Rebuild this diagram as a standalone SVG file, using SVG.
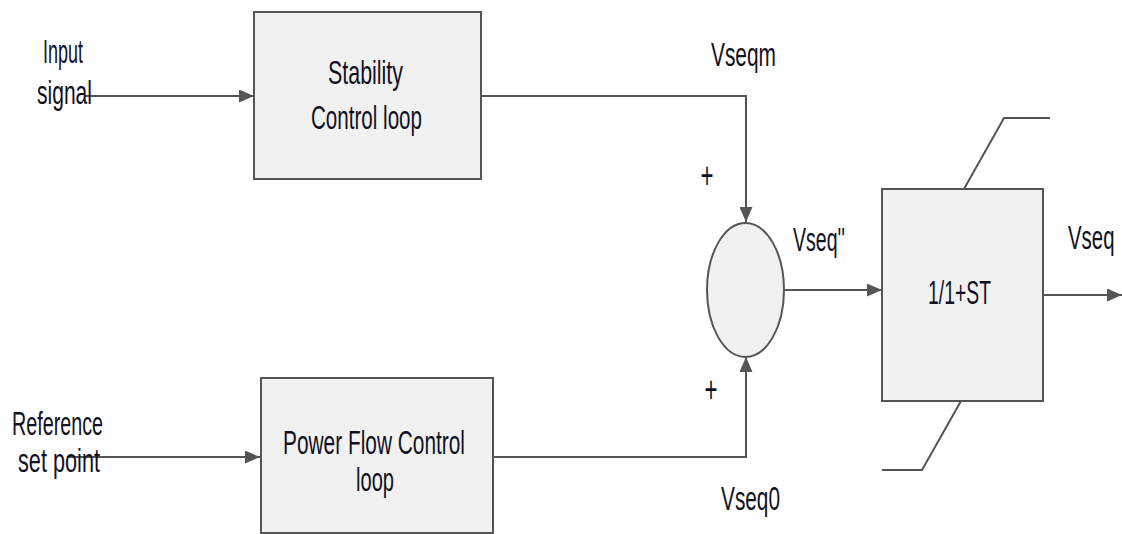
<svg xmlns="http://www.w3.org/2000/svg" width="1122" height="534" viewBox="0 0 1122 534">
  <style>
    .box { fill: #f1f1f1; stroke: #555; stroke-width: 2; }
    .wire { fill: none; stroke: #555; stroke-width: 2; }
    .lbl { font-family: "Liberation Sans", Arial, sans-serif; font-size: 34px; fill: #111122; }
    .pl { font-family: "Liberation Sans", Arial, sans-serif; font-size: 36px; fill: #111122; text-anchor: middle; }
  </style>
  <defs>
    <marker id="arr" markerUnits="userSpaceOnUse" markerWidth="15" markerHeight="13" refX="15" refY="6.5" orient="auto">
      <path d="M0,0 L15,6.5 L0,13 z" fill="#555"/>
    </marker>
  </defs>
  <rect width="1122" height="534" fill="#fff"/>

  <g id="connectors">
    <line class="wire" x1="85" y1="96" x2="254" y2="96" marker-end="url(#arr)"/>
    <polyline class="wire" points="481,96 746,96 746,222" marker-end="url(#arr)"/>
    <line class="wire" x1="67" y1="457" x2="260" y2="457" marker-end="url(#arr)"/>
    <polyline class="wire" points="493,457 746,457 746,357" marker-end="url(#arr)"/>
    <line class="wire" x1="784" y1="290" x2="882" y2="290" marker-end="url(#arr)"/>
    <line class="wire" x1="1043" y1="295" x2="1122" y2="295" marker-end="url(#arr)"/>
    <polyline class="wire" points="964,189 1004,118 1050,118"/>
    <polyline class="wire" points="882,470 922,470 961,401"/>
  </g>

  <g id="input-label">
    <text class="lbl" x="43" y="63" textLength="40" lengthAdjust="spacingAndGlyphs">Input</text>
    <text class="lbl" x="37" y="104" textLength="55" lengthAdjust="spacingAndGlyphs">signal</text>
  </g>

  <g id="stability">
    <rect class="box" x="254" y="12" width="227" height="167"/>
    <text class="lbl" x="328" y="84" textLength="75" lengthAdjust="spacingAndGlyphs">Stability</text>
    <text class="lbl" x="311" y="129" textLength="111" lengthAdjust="spacingAndGlyphs">Control loop</text>
  </g>

  <g id="reference-label">
    <text class="lbl" x="12" y="435" textLength="91" lengthAdjust="spacingAndGlyphs">Reference</text>
    <text class="lbl" x="18" y="472" textLength="82" lengthAdjust="spacingAndGlyphs">set point</text>
  </g>

  <g id="powerflow">
    <rect class="box" x="261" y="378" width="232" height="155"/>
    <text class="lbl" x="283" y="454" textLength="182" lengthAdjust="spacingAndGlyphs">Power Flow Control</text>
    <text class="lbl" x="356" y="491" textLength="38" lengthAdjust="spacingAndGlyphs">loop</text>
  </g>

  <g id="sum">
    <ellipse class="box" cx="745.5" cy="290" rx="38.5" ry="67"/>
    <text class="pl" x="707" y="188" textLength="13" lengthAdjust="spacingAndGlyphs">+</text>
    <text class="pl" x="711" y="402" textLength="13" lengthAdjust="spacingAndGlyphs">+</text>
  </g>

  <g id="signal-labels">
    <text class="lbl" x="711" y="66" textLength="65" lengthAdjust="spacingAndGlyphs">Vseqm</text>
    <text class="lbl" x="793" y="251" textLength="52" lengthAdjust="spacingAndGlyphs">Vseq''</text>
    <text class="lbl" transform="translate(1068,249) scale(0.6,1)" x="0" y="0">Vseq</text>
    <text class="lbl" x="721" y="510" textLength="59" lengthAdjust="spacingAndGlyphs">Vseq0</text>
  </g>

  <g id="lag-block">
    <rect class="box" x="882" y="189" width="161" height="212"/>
    <text class="lbl" x="928" y="304" textLength="63" lengthAdjust="spacingAndGlyphs">1/1+ST</text>
  </g>
</svg>
